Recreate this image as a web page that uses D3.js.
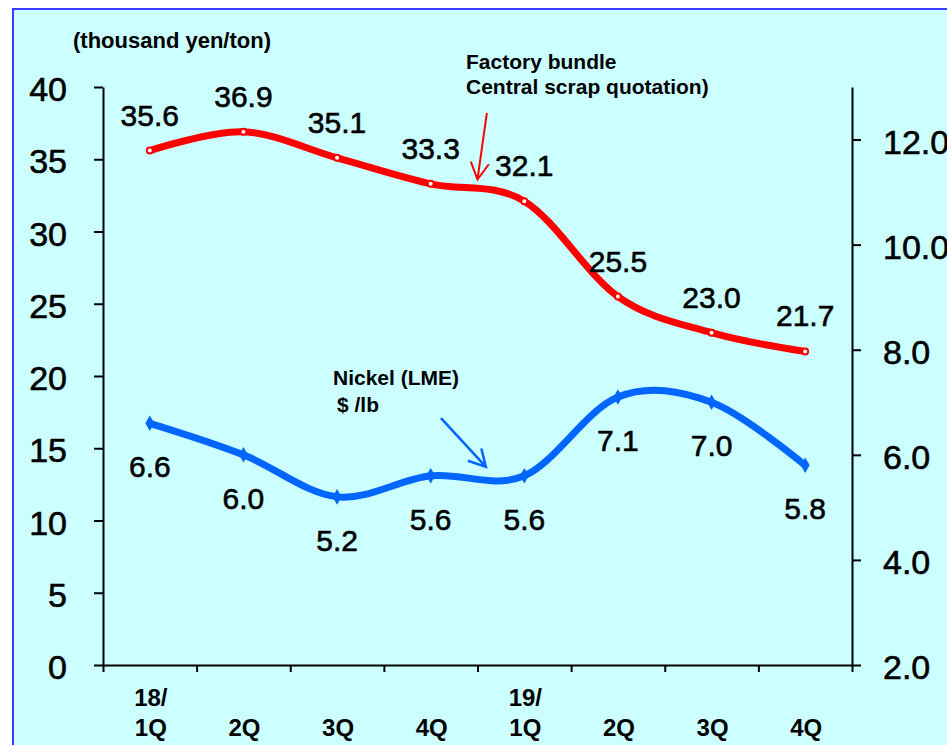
<!DOCTYPE html>
<html>
<head>
<meta charset="utf-8">
<script src="https://cdn.jsdelivr.net/npm/d3@7"></script>
<style>
  html, body { margin: 0; padding: 0; background: #ffffff; }
  svg { display: block; }
  text { font-family: "Liberation Sans", Arial, sans-serif; fill: #000; }
</style>
</head>
<body>
<svg id="chart" width="947" height="745"></svg>
<script>
// ---------- data ----------
const quarters   = ["1Q", "2Q", "3Q", "4Q", "1Q", "2Q", "3Q", "4Q"];
const yearLabels = ["18/", "", "", "", "19/", "", "", ""];
const scrapPrice  = [35.6, 36.9, 35.1, 33.3, 32.1, 25.5, 23.0, 21.7];   // thousand yen/ton (left axis)
const nickelPrice = [6.6, 6.0, 5.2, 5.6, 5.6, 7.1, 7.0, 5.8];           // $/lb (right axis)
const leftTicks  = [0, 5, 10, 15, 20, 25, 30, 35, 40];
const rightTicks = [2, 4, 6, 8, 10, 12];

// ---------- layout ----------
const W = 947, H = 745;
const plot = { left: 103, right: 852, top: 87, bottom: 665 };
const RED = "#ff0000", BLUE = "#0066ff";

const svg = d3.select("#chart");

// background + border
svg.append("rect").attr("x", 0).attr("y", 0).attr("width", W).attr("height", H).attr("fill", "#ffffff");
svg.append("rect").attr("x", 13).attr("y", 9).attr("width", W + 20).attr("height", H + 20)
  .attr("fill", "#ccffff").attr("stroke", "#3b3bff").attr("stroke-width", 2);

// scales
const xEdge = d3.scaleLinear().domain([0, quarters.length]).range([plot.left, plot.right]);
const xc = i => xEdge(i + 0.5);
const yL = d3.scaleLinear().domain([0, 40]).range([plot.bottom, plot.top]);
const yR = d3.scaleLinear().domain([2, 13]).range([plot.bottom, plot.top]);

// heavier numerals (the reference font is a medium-weight gothic)
const heavy = sel => sel.attr("stroke", "#000").attr("stroke-width", 0.6).attr("paint-order", "stroke");

// axes
const axisStyle = g => {
  g.selectAll("path.domain").attr("stroke", "#000").attr("stroke-width", 2);
  g.selectAll(".tick line").attr("stroke", "#000").attr("stroke-width", 2);
};

const gL = svg.append("g").attr("transform", `translate(${plot.left},0)`)
  .call(d3.axisLeft(yL).tickValues(leftTicks).tickSize(9).tickSizeOuter(0).tickPadding(27).tickFormat(d => d));
gL.call(axisStyle);
gL.selectAll(".tick text").attr("font-size", 34).attr("dy", "0.4em")
  .attr("font-family", "'Liberation Sans', Arial, sans-serif").attr("fill", "#000").call(heavy);

const gR = svg.append("g").attr("transform", `translate(${plot.right},0)`)
  .call(d3.axisRight(yR).tickValues(rightTicks).tickSize(9).tickSizeOuter(0).tickPadding(22).tickFormat(d3.format(".1f")));
gR.call(axisStyle);
gR.selectAll(".tick text").attr("font-size", 34).attr("dy", "0.4em")
  .attr("font-family", "'Liberation Sans', Arial, sans-serif").attr("fill", "#000").call(heavy);

const gX = svg.append("g").attr("transform", `translate(0,${plot.bottom})`)
  .call(d3.axisBottom(xEdge).tickValues(d3.range(quarters.length + 1)).tickSize(7).tickSizeOuter(0).tickFormat(""));
gX.call(axisStyle);

// x labels
const xl = svg.append("g").attr("font-size", 24).attr("font-weight", "bold").attr("text-anchor", "middle");
quarters.forEach((q, i) => {
  xl.append("text").attr("x", xc(i) + 1).attr("y", 736).text(q);
  if (yearLabels[i]) xl.append("text").attr("x", xc(i) + 1).attr("y", 706).text(yearLabels[i]);
});

// unit label
svg.append("text").attr("x", 73).attr("y", 48).attr("font-size", 22).attr("font-weight", "bold")
  .text("(thousand yen/ton)");

// lines
const curve = d3.curveCardinal.tension(0);
const lineL = d3.line().x((d, i) => xc(i)).y(d => yL(d)).curve(curve);
const lineR = d3.line().x((d, i) => xc(i)).y(d => yR(d)).curve(curve);

svg.append("path").datum(nickelPrice).attr("d", lineR).attr("fill", "none")
  .attr("stroke", BLUE).attr("stroke-width", 7).attr("stroke-linejoin", "round");
svg.append("path").datum(scrapPrice).attr("d", lineL).attr("fill", "none")
  .attr("stroke", RED).attr("stroke-width", 7).attr("stroke-linejoin", "round");

// markers
svg.append("g").selectAll("path").data(nickelPrice).join("path")
  .attr("d", d3.symbol(d3.symbolDiamond, 70))
  .attr("transform", (d, i) => `translate(${xc(i)},${yR(d)})`)
  .attr("fill", BLUE);
svg.append("g").selectAll("circle").data(scrapPrice).join("circle")
  .attr("cx", (d, i) => xc(i)).attr("cy", d => yL(d)).attr("r", 3)
  .attr("fill", "#fff").attr("stroke", RED).attr("stroke-width", 2);

// data labels
svg.append("g").attr("font-size", 30).attr("text-anchor", "middle")
  .selectAll("text").data(scrapPrice).join("text")
  .attr("x", (d, i) => xc(i)).attr("y", d => yL(d) - 25).text(d => d.toFixed(1)).call(heavy);
svg.append("g").attr("font-size", 30).attr("text-anchor", "middle")
  .selectAll("text").data(nickelPrice).join("text")
  .attr("x", (d, i) => xc(i)).attr("y", d => yR(d) + 54).text(d => d.toFixed(1)).call(heavy);

// annotations
svg.append("text").attr("x", 466).attr("y", 69).attr("font-size", 21).attr("font-weight", "bold").text("Factory bundle");
svg.append("text").attr("x", 466).attr("y", 94).attr("font-size", 21).attr("font-weight", "bold").text("Central scrap quotation)");
svg.append("text").attr("x", 333).attr("y", 385).attr("font-size", 21).attr("font-weight", "bold").text("Nickel (LME)");
svg.append("text").attr("x", 337).attr("y", 412).attr("font-size", 21).attr("font-weight", "bold").text("$ /lb");

function arrow(x1, y1, x2, y2, color, w) {
  const ang = Math.atan2(y2 - y1, x2 - x1);
  const len = 19, spread = 0.5;
  const p1 = [x2 - len * Math.cos(ang - spread), y2 - len * Math.sin(ang - spread)];
  const p2 = [x2 - len * Math.cos(ang + spread), y2 - len * Math.sin(ang + spread)];
  svg.append("path")
    .attr("d", `M${x1},${y1}L${x2},${y2}M${p1[0]},${p1[1]}L${x2},${y2}L${p2[0]},${p2[1]}`)
    .attr("fill", "none").attr("stroke", color).attr("stroke-width", w);
}
// red arrow (scrap), expressed in data coordinates
arrow(xEdge(4.1), yL(38.2), xEdge(4.0), yL(33.6), RED, 2);
// blue arrow (nickel)
arrow(xEdge(3.61), yR(6.70), xEdge(4.09), yR(5.77), BLUE, 2.5);
</script>
</body>
</html>
